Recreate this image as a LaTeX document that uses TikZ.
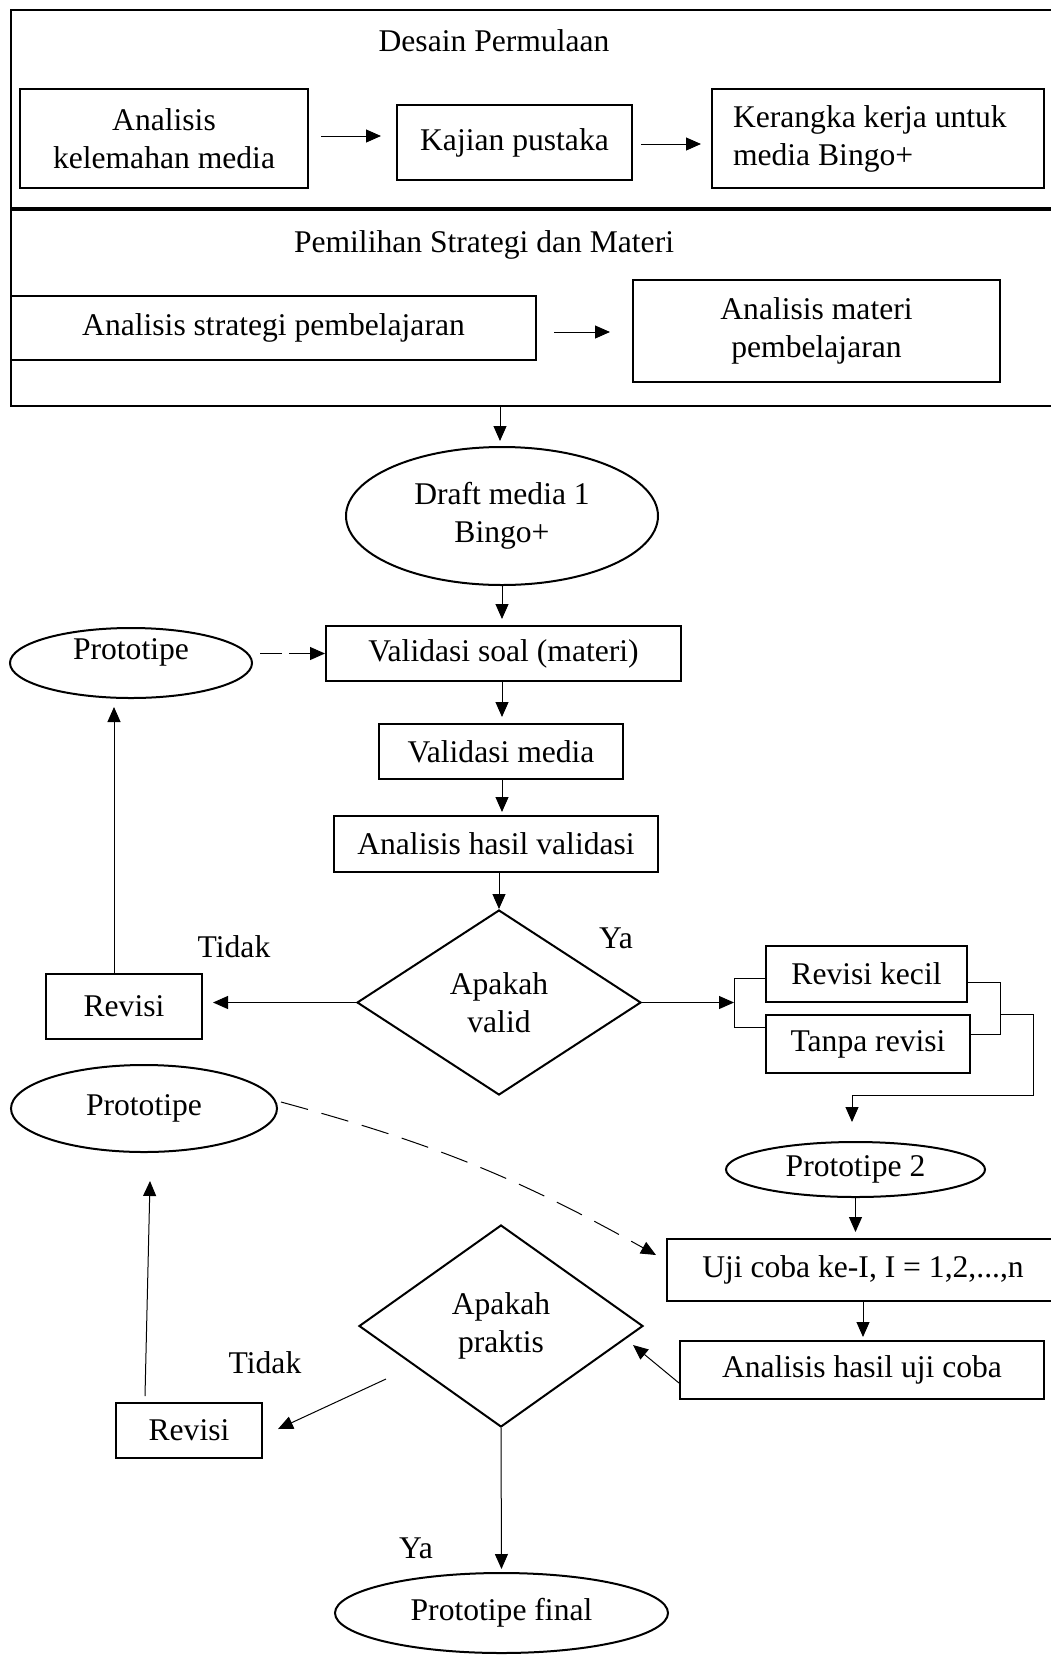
\documentclass[tikz,border=0pt]{standalone}
\usepackage{fontspec}
\setmainfont{Liberation Serif}
\usetikzlibrary{arrows.meta,calc,shapes.geometric}
\begin{document}
\begin{tikzpicture}[x=1pt,y=-1pt,
  font=\fontsize{31.6}{38}\selectfont,
  box/.style={draw, line width=2pt, inner sep=0pt, align=center},
  ell/.style={draw, ellipse, line width=2pt, inner sep=0pt, align=center},
  dia/.style={draw, diamond, line width=2pt, inner sep=0pt, align=center},
  arr/.style={line width=1pt, -{Triangle[length=15pt,width=13pt]}},
  lin/.style={line width=1pt},
  lbl/.style={inner sep=0pt}]
\useasboundingbox (0,0) rectangle (1051,1655);
\clip (0,0) rectangle (1051,1655);

% frame
\draw[line width=2pt] (1060,10) -- (11,10) -- (11,406) -- (1060,406);
\draw[line width=3.5pt] (11,209) -- (1060,209);
\coordinate (fb) at (500,406);

\node[lbl] (t1) at (494,41) {Desain Permulaan};
\node[box, minimum width=288pt, minimum height=99pt] (b1) at (164,138.5) {Analisis\\kelemahan media};
\node[box, minimum width=235pt, minimum height=75pt] (b2) at (514.5,142.5) {Kajian pustaka};
\node[box, minimum width=332pt, minimum height=99pt, text width=290pt, align=flush left, inner xsep=21pt] (b3) at (878,138.5) {Kerangka kerja untuk\\media Bingo+};
\draw[arr] ($(b1.east)+(12,-2.5)$) -- ($(b2.west)+(-15,-6.5)$);
\draw[arr] ($(b2.east)+(8,1.5)$) -- ($(b3.west)+(-10,5.5)$);

\node[lbl] (t2) at (484,245) {Pemilihan Strategi dan Materi};
\node[box, minimum width=525pt, minimum height=64pt] (b4) at (273.5,328) {Analisis strategi pembelajaran};
\node[box, minimum width=367pt, minimum height=102pt] (b5) at (816.5,331) {Analisis materi\\pembelajaran};
\draw[arr] ($(b4.east)+(17,4)$) -- ($(b5.west)+(-22,1)$);

% main column
\node[ell, minimum width=312pt, minimum height=138pt] (draft) at (502,516) {Draft media 1\\Bingo+};
\draw[arr, shorten >=5pt] (fb) -- (fb |- draft.north);

\node[box, minimum width=355pt, minimum height=55pt] (vsoal) at (503.5,653.5) {Validasi soal (materi)};
\draw[arr, shorten >=6pt] (draft.south) -- (draft.south |- vsoal.north);

\node[box, minimum width=244pt, minimum height=55pt] (vmedia) at (501,751.5) {Validasi media};
\draw[arr, shorten >=6pt] (draft.south |- vsoal.south) -- (draft.south |- vmedia.north);

\node[box, minimum width=324pt, minimum height=56pt] (ahv) at (496,844) {Analisis hasil validasi};
\draw[arr, shorten >=3pt] (draft.south |- vmedia.south) -- (draft.south |- ahv.north);

\node[dia, minimum width=284pt, minimum height=185pt] (dvalid) at (499,1002.5) {Apakah\\valid};
\draw[arr] (dvalid.north |- ahv.south) -- (dvalid.north);

\node[lbl] (ya1) at (616,938) {Ya};
\node[lbl] (tidak1) at (234,947) {Tidak};

\node[box, minimum width=156pt, minimum height=65pt] (rev1) at (124,1006.5) {Revisi};
\draw[arr, shorten >=10pt] (dvalid.west) -- (dvalid.west -| rev1.east);

\node[ell, minimum width=242pt, minimum height=70pt, label={[lbl, yshift=11pt]center:Prototipe}] (proto1) at (131,663) {};
\draw[arr, dash pattern=on 22pt off 7pt] ($(vsoal.west -| proto1.east)+(7,0)$) -- (vsoal.west);
\coordinate (r1top) at ($(rev1.north)+(-10,0)$);
\draw[arr, shorten >=8pt] (r1top) -- (r1top |- proto1.south);

% right branch
\node[box, minimum width=201pt, minimum height=56pt] (rk) at (866.5,974) {Revisi kecil};
\node[box, minimum width=204pt, minimum height=58pt] (tr) at (868,1044) {Tanpa revisi};
\coordinate (lbr) at ($(rk.west)+(-31,29)$);
\draw[arr] (dvalid.east) -- (dvalid.east -| lbr);
\draw[lin] ($(rk.west)+(0,4)$) -| ($(tr.west)+(-31,-17)$) -- ($(tr.west)+(0,-17)$);
\draw[lin] ($(rk.east)+(0,8)$) -| ($(tr.east)+(29,-10)$) -- ($(tr.east)+(0,-10)$);

\node[ell, minimum width=259pt, minimum height=55pt] (proto2) at (855.5,1169.5) {Prototipe 2};
\coordinate (rbr) at ($(rk.east)+(32,40)$);
\draw[arr, shorten >=19pt] (rbr) -- ++(33,0) -- ++(0,81) -| ($(proto2.north)+(-3.5,0)$);

\node[box, minimum width=392pt, minimum height=62pt] (uji) at (863,1270) {Uji coba ke-I, I = 1,2,...,n};
\draw[arr, shorten >=6pt] (proto2.south) -- (proto2.south |- uji.north);

\node[box, minimum width=364pt, minimum height=58pt] (ahu) at (862,1370) {Analisis hasil uji coba};
\draw[arr, shorten >=3pt] (uji.south) -- (uji.south |- ahu.north);

\node[dia, minimum width=284pt, minimum height=202pt] (dprak) at (501,1326) {Apakah\\praktis};
\draw[arr] ($(ahu.west)+(0,13)$) -- ($(dprak.east)+(-11,19)$);

\node[box, minimum width=146pt, minimum height=55pt] (rev2) at (189,1430.5) {Revisi};
\draw[arr] ($(dprak.west)+(28,53)$) -- ($(rev2.east)+(15,-1.5)$);
\node[lbl] (tidak2) at (265,1363) {Tidak};

\node[ell, minimum width=266pt, minimum height=87pt] (proto3) at (144,1108.5) {Prototipe};
\draw[arr] ($(rev2.north)+(-44,-6)$) -- ($(proto3.south)+(6,28)$);
\draw[arr, dash pattern=on 28pt off 14pt] ($(proto3.east)+(3,-6.5)$) to[bend left=7] ($(uji.west)+(-10,-15)$);

\node[ell, minimum width=333pt, minimum height=80pt] (final) at (501.5,1613) {Prototipe final};
\draw[arr, shorten >=3pt] (dprak.south) -- (final.north);
\node[lbl] (ya2) at (416,1548) {Ya};
\end{tikzpicture}
\end{document}
